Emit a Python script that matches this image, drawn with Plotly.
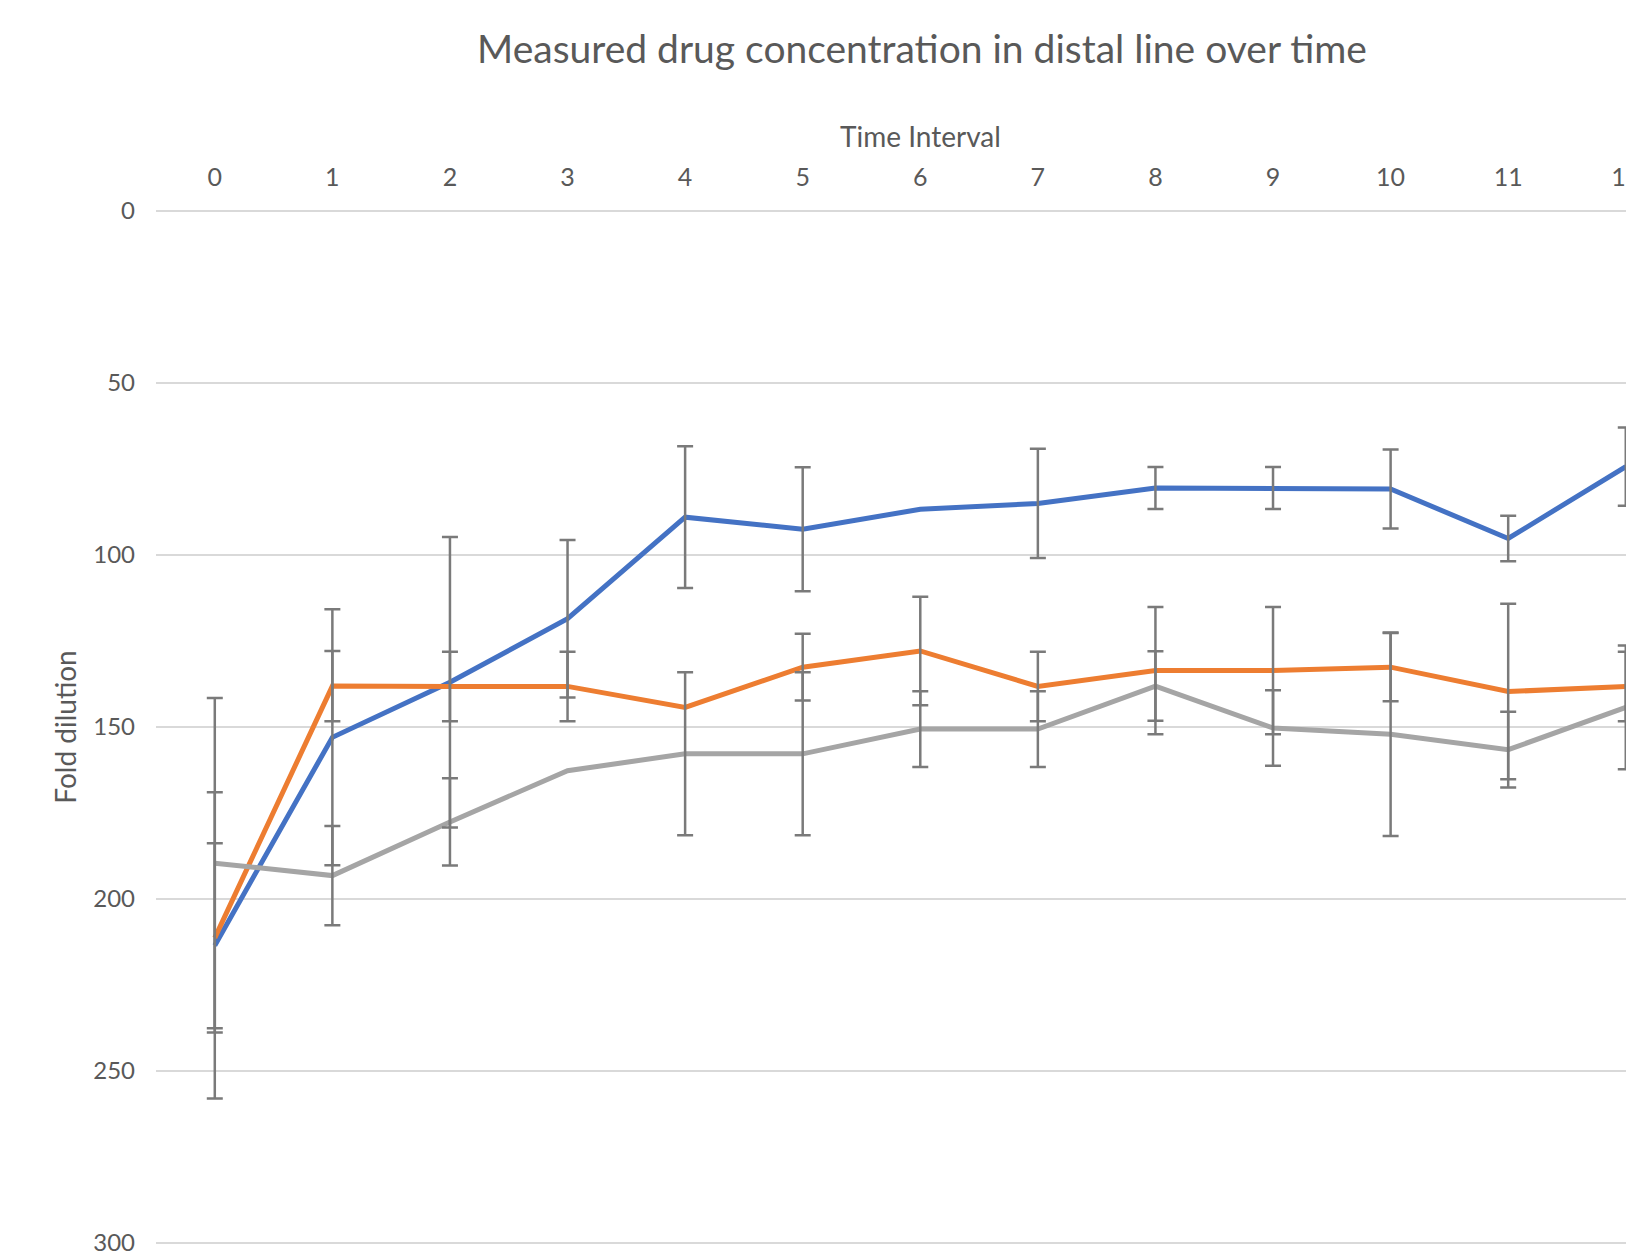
import plotly.graph_objects as go

# ---- data ----
time_interval = list(range(13))
tick_labels = [str(t) for t in time_interval]
y_ticks = [0, 50, 100, 150, 200, 250, 300]

blue_vals = [213.5, 153.0, 137.0, 118.5, 89.0, 92.5, 86.7, 85.0, 80.5, 80.5, 80.8, 95.2, 74.3]
blue_err = [44.5, 37.2, 42.2, 22.9, 20.6, 18.0, 0.0, 15.9, 6.1, 6.1, 11.5, 6.6, 11.4]

orange_vals = [211.3, 138.1, 138.2, 138.2, 144.3, 132.6, 127.9, 138.2, 133.6, 133.6, 132.6, 139.7, 138.2]
orange_err = [27.5, 10.2, 10.1, 10.1, 0.0, 9.7, 15.8, 10.1, 18.5, 18.5, 9.9, 25.5, 10.1]

gray_vals = [189.6, 193.2, 177.6, 162.7, 157.8, 157.8, 150.6, 150.6, 138.1, 150.3, 152.1, 156.6, 144.3]
gray_err = [48.0, 14.4, 12.7, 0.0, 23.7, 23.7, 11.0, 11.0, 10.1, 11.0, 29.6, 11.0, 18.0]

series = [
    ("Series1", blue_vals, blue_err, "#4472C4"),
    ("Series2", orange_vals, orange_err, "#ED7D31"),
    ("Series3", gray_vals, gray_err, "#A5A5A5"),
]

fig = go.Figure()

for name, vals, errs, color in series:
    fig.add_trace(go.Scatter(
        x=time_interval, y=vals, mode="lines", name=name,
        line=dict(color=color, width=5), showlegend=False,
    ))

# error bars (only where an error bar is drawn)
for name, vals, errs, color in series:
    xs = [t for t, e in zip(time_interval, errs) if e > 0]
    ys = [v for v, e in zip(vals, errs) if e > 0]
    es = [e for e in errs if e > 0]
    fig.add_trace(go.Scatter(
        x=xs, y=ys, mode="markers", name=name + " error",
        marker=dict(size=1, opacity=0),
        error_y=dict(type="data", array=es, symmetric=True,
                     color="#7A7A7A", thickness=2.5, width=8),
        showlegend=False, hoverinfo="skip",
    ))

# page has an 8px body margin, so the figure is sized to fit inside it
OFF = 8
W, H = 1634 - OFF, 1258 - OFF
L, R, T, B = 156 - OFF, 0, 210 - OFF, 14
PH = H - T - B


def paper_y(page_y):
    return 1 + (T - (page_y - OFF)) / PH


fig.update_layout(
    width=W, height=H,
    margin=dict(l=L, r=R, t=T, b=B, autoexpand=False),
    paper_bgcolor="white", plot_bgcolor="white",
    font=dict(family="Lato", color="#595959"),
    title=dict(
        text="Measured drug concentration in distal line over time",
        font=dict(size=39, color="#595959", family="Lato"),
        xref="container", x=(922 - OFF) / W, xanchor="center",
        yref="container", y=1 - (49 - OFF) / H, yanchor="middle",
    ),
    xaxis=dict(
        range=[-0.5, 12.07], side="top",
        tickmode="array", tickvals=time_interval, ticktext=tick_labels,
        showgrid=False, zeroline=False, showline=False, ticks="",
        tickfont=dict(size=25, color="#595959"),
        ticklabelstandoff=18, ticklabeloverflow="allow",
        automargin=False,
    ),
    yaxis=dict(
        range=[300.3, -0.3],
        tickmode="array", tickvals=y_ticks, ticktext=[str(v) for v in y_ticks],
        showgrid=True, gridcolor="#D9D9D9", gridwidth=2,
        zeroline=False, showline=False, ticks="",
        tickfont=dict(size=24, color="#595959"),
        ticklabelstandoff=20, ticklabeloverflow="allow",
        title=dict(text="Fold dilution", font=dict(size=28, color="#595959"), standoff=8),
        automargin=False,
    ),
    annotations=[dict(
        text="Time Interval", x=6, xref="x", xanchor="center",
        y=paper_y(136.5), yref="paper", yanchor="middle",
        showarrow=False, font=dict(size=28, color="#595959"),
    )],
)

fig.write_html("out.html")
